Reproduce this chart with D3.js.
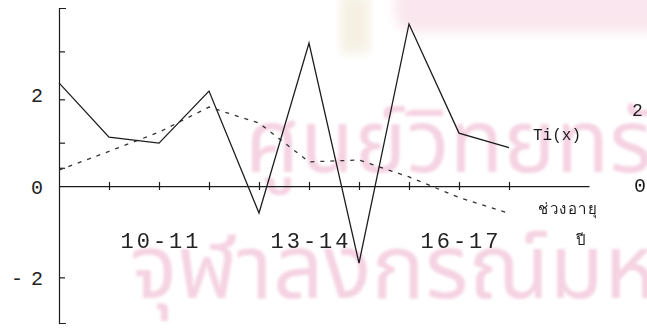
<!DOCTYPE html>
<html>
<head>
<meta charset="utf-8">
<script src="https://cdn.jsdelivr.net/npm/d3@7"></script>
<style>
  body { margin: 0; background: #fff; }
  svg { display: block; }
  .tick text { font-family: "Liberation Mono", monospace; fill: #222; }
</style>
</head>
<body>
<div class="chart"></div>
<script>
// age groups (index 0 sits on the y axis)
var ages = ["8-9", "9-10", "10-11", "11-12", "12-13", "13-14", "14-15", "15-16", "16-17", "17-18"];
var labelledAges = ["10-11", "13-14", "16-17"];

// Ti(x) series (solid) and the second, dotted series
var tiValues = [2.26, 1.07, 0.94, 2.08, -0.59, 3.13, -1.69, 3.55, 1.16, 0.84];
var dotValues = [0.35, 0.76, 1.18, 1.73, 1.38, 0.53, 0.57, 0.2, -0.25, -0.6];

// y axis ticks and labels
var yTicks = [-2, 0.4, 0.95, 1.9, 2.95];
var yLabels = [-2, 0, 2];

var svgWidth = 647;
var svgHeight = 328;

var svg = d3.select(".chart")
  .append("svg")
  .attr("width", svgWidth)
  .attr("height", svgHeight);

// scanned page watermark
var defs = svg.append("defs");
defs.append("filter").attr("id", "soft")
  .append("feGaussianBlur").attr("stdDeviation", 1.4);
defs.append("filter").attr("id", "softer")
  .append("feGaussianBlur").attr("stdDeviation", 6);

var wm = svg.append("g").attr("filter", "url(#soft)");
wm.append("rect")
  .attr("x", 395).attr("y", -20).attr("width", 280).attr("height", 52)
  .attr("rx", 20)
  .attr("fill", "#f9e6ee")
  .attr("filter", "url(#softer)");
wm.append("rect")
  .attr("x", 340).attr("y", -5).attr("width", 30).attr("height", 58)
  .attr("fill", "#f5f0e2")
  .attr("filter", "url(#softer)");
wm.append("text")
  .attr("x", 245).attr("y", 172)
  .attr("font-family", "Noto Sans Thai, Noto Sans, sans-serif")
  .attr("font-size", 88)
  .attr("fill", "#f5d3e2")
  .text("ศูนย์วิทยทรัพยากร");
wm.append("text")
  .attr("x", 130).attr("y", 298)
  .attr("font-family", "Noto Sans Thai, Noto Sans, sans-serif")
  .attr("font-size", 89)
  .attr("fill", "#f5d3e2")
  .text("จุฬาลงกรณ์มหาวิทยาลัย");

// scales
var xMax = 10.6;
var x = d3.scaleLinear().domain([0, xMax]).range([59, 589]);
var y = d3.scaleLinear().domain([-3, 3.9]).range([323, 8]);

var ink = "#1c1c1c";

// y axis: line with inward ticks and end caps
var yAxis = svg.append("g")
  .attr("transform", `translate(${x(0)}, 0)`)
  .call(d3.axisRight(y).tickValues(yTicks).tickSizeInner(6).tickSizeOuter(7).tickFormat(""));
yAxis.selectAll("path, line").attr("stroke", ink).attr("stroke-width", 1.2);

// y labels on the left
var yLab = svg.append("g")
  .attr("transform", `translate(${x(0) - 13}, 0)`)
  .call(d3.axisLeft(y).tickValues(yLabels).tickSize(0)
    .tickFormat(d => d < 0 ? "-" + Math.abs(d) : d));
yLab.select(".domain").remove();
yLab.selectAll("text").attr("font-size", 20).attr("dy", "0.36em");
yLab.selectAll("text").filter(d => d < 0).attr("textLength", 32);

// x axis at zero with crossing ticks
var xAxis = svg.append("g")
  .attr("transform", `translate(0, ${y(0)})`)
  .call(d3.axisBottom(x).tickValues(d3.range(1, ages.length)).tickSizeInner(5).tickSizeOuter(0).tickFormat(""));
xAxis.selectAll("path, line").attr("stroke", ink).attr("stroke-width", 1.2);
xAxis.selectAll(".tick line").attr("y1", -4).attr("y2", 4);

// x labels
var xLab = svg.append("g")
  .attr("transform", `translate(0, ${y(0)})`)
  .call(d3.axisBottom(x)
    .tickValues(labelledAges.map(a => ages.indexOf(a)))
    .tickSize(0).tickPadding(62)
    .tickFormat(i => ages[i]));
xLab.select(".domain").remove();
xLab.selectAll("text")
  .attr("font-size", 22)
  .attr("dy", 0)
  .attr("textLength", 78)
  .attr("lengthAdjust", "spacing");

// lines
var lineTi = d3.line().x((d, i) => x(i)).y(d => y(d));

svg.append("path")
  .datum(dotValues)
  .attr("d", lineTi)
  .attr("fill", "none")
  .attr("stroke", "#333")
  .attr("stroke-width", 1.3)
  .attr("stroke-dasharray", "4,6");

svg.append("path")
  .datum(tiValues)
  .attr("d", lineTi)
  .attr("fill", "none")
  .attr("stroke", ink)
  .attr("stroke-width", 1.3);

// series label and axis title
svg.append("text")
  .attr("x", 533).attr("y", 140)
  .attr("font-family", "Liberation Mono, monospace")
  .attr("font-size", 16)
  .attr("fill", ink)
  .attr("textLength", 48)
  .text("Ti(x)");

svg.append("text")
  .attr("x", 538).attr("y", 214)
  .attr("font-size", 15)
  .attr("fill", ink)
  .attr("textLength", 59)
  .text("ช่วงอายุ");

svg.append("text")
  .attr("x", 576).attr("y", 245)
  .attr("font-size", 15)
  .attr("fill", ink)
  .text("ปี");

// edge of the next figure on the page
svg.append("text")
  .attr("x", 634).attr("y", 192)
  .attr("font-family", "Liberation Mono, monospace")
  .attr("font-size", 20)
  .attr("fill", ink)
  .text("0");
svg.append("text")
  .attr("x", 632).attr("y", 116)
  .attr("font-family", "Liberation Mono, monospace")
  .attr("font-size", 18)
  .attr("fill", ink)
  .text("2");
</script>
</body>
</html>
